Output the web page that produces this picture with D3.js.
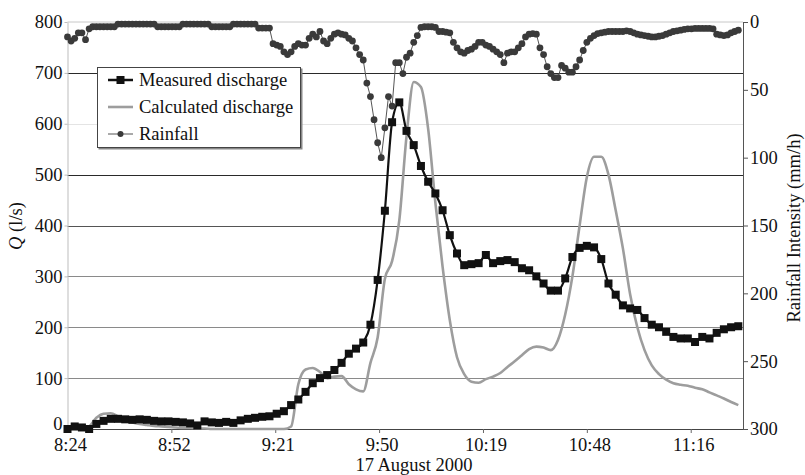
<!DOCTYPE html>
<html><head><meta charset="utf-8">
<script src="https://cdn.jsdelivr.net/npm/d3@7"></script>
<style>body{margin:0;background:#fff}svg{display:block}</style>
</head><body><svg id="c" width="805" height="475"></svg>
<script>
// ---------- data ----------
const xTickLabels = ["8:24","8:52","9:21","9:50","10:19","10:48","11:16"];
const xTickMinutes = [0, 28.8, 57.6, 86.4, 115.2, 144, 172.8]; // minutes after 8:24
const qTicks = [0,100,200,300,400,500,600,700,800];
const rainTicks = [0,50,100,150,200,250,300];
const gridValues = [100,200,300,400,500,600,700];
const gridColors = ["#8a8a8a","#8a8a8a","#8a8a8a","#555","#2a2a2a","#e4e4e4","#2a2a2a"];
const seriesNames = ["Measured discharge","Calculated discharge","Rainfall"];
const dischargeStepMin = 2;
const rainStepMin = 1;

const measured = [
 0, 5, 3, 0, 10, 16, 20, 20, 19, 18,
 19, 18, 16, 15, 15, 14, 13, 11, 7, 15,
 13, 12, 14, 12, 17, 20, 22, 24, 25, 30,
 35, 47, 58, 73, 90, 100, 106, 116, 130, 148,
 158, 170, 205, 293, 429, 603, 642, 586, 558, 517,
 486, 463, 430, 381, 345, 322, 324, 326, 342, 326,
 330, 332, 328, 316, 312, 300, 286, 272, 272, 296,
 338, 356, 360, 357, 334, 286, 264, 243, 237, 234,
 218, 205, 200, 191, 181, 178, 178, 171, 181, 178,
 189, 196, 200, 202
];
const calculated = [
 0, 0, 0, 5, 22, 30, 31, 25, 18, 13,
 10, 8, 6, 5, 4, 3, 2, 2, 1, 1,
 0, 0, 0, 0, 0, 0, 0, 0, 0, 0,
 0, 5, 88, 117, 120, 112, 100, 103, 104, 88,
 78, 74, 130, 180, 295, 330, 410, 575, 682, 672,
 590, 445, 319, 214, 141, 108, 93, 91, 98, 103,
 110, 122, 133, 145, 157, 162, 160, 155, 175, 225,
 300, 400, 495, 535, 535, 500, 430, 355, 265, 200,
 155, 125, 108, 97, 90, 87, 85, 81, 78, 72,
 66, 60, 53, 47
];
const rainfall = [
 11, 14, 12, 8, 8, 13, 5,
 3.5, 3.5, 3.5, 3.5, 3.5, 3.5, 3.5,
 1.5, 1.5, 1.5, 1.5, 1.5, 1.5, 1.5, 1.5, 1.5, 1.5, 1.5,
 3.5, 3.5, 3.5, 3.5, 3.5, 3.5, 3.5,
 1.5, 1.5, 1.5, 1.5, 1.5, 1.5, 1.5, 1.5,
 3.5, 3.5, 3.5, 3.5, 3.5, 3.5,
 1.5, 1.5, 1.5, 1.5, 1.5, 1.5, 1.5,
 4.5, 4.5, 4.5, 4.5,
 16, 17, 18, 22, 24, 22, 18, 16, 17, 17,
 12, 9, 11, 7, 14, 16, 12, 9, 8, 9,
 9.5, 12, 14, 19, 24, 28, 45, 55, 72, 89,
 100, 78, 55, 62,
 30, 30, 38, 26, 23, 15, 10, 4, 3.5, 3.5,
 3.5, 4, 7, 7, 7.5, 8, 15, 19, 22, 23,
 21, 20, 18, 15, 15, 17, 18, 20, 22, 24,
 30, 23, 22, 22, 19, 16, 11, 9, 8.5, 9,
 19, 24, 33, 38, 41, 41, 32, 34, 37, 37,
 33, 28, 21, 15, 12, 10, 8.5, 8, 7.5, 7,
 7, 7, 7, 7, 6.5, 7, 8, 9, 9.5, 10,
 10.5, 11, 11, 10.5, 10, 9, 8, 7, 6.5, 6,
 5.5, 5, 5, 4.7, 4.7, 4.7, 4.7, 4.7, 5, 9,
 9.5, 10, 9.5, 8, 7, 6
];

// ---------- layout ----------
const L = 67.5, R = 743, T = 22, B = 429;
const font = "'Liberation Serif','Times New Roman',serif";
const svg = d3.select("#c");

const x = d3.scaleLinear().domain([0, 187.3]).range([L, R]);
const yQ = d3.scaleLinear().domain([0, 800]).range([B, T]);
const yR = d3.scaleLinear().domain([0, 300]).range([T, B]);

// grid
svg.append("g").selectAll("line").data(gridValues).join("line")
  .attr("x1", L).attr("x2", R)
  .attr("y1", d => Math.round(yQ(d)) + 0.5).attr("y2", d => Math.round(yQ(d)) + 0.5)
  .attr("stroke", (d, i) => gridColors[i]).attr("stroke-width", 1);
// top border
svg.append("line").attr("x1", L).attr("x2", R).attr("y1", yQ(800)).attr("y2", yQ(800))
  .attr("stroke", "#c8c8c8");

// axes
const gx = svg.append("g").attr("transform", `translate(0,${B})`)
  .call(d3.axisBottom(x).tickValues(xTickMinutes).tickFormat((d, i) => xTickLabels[i]).tickSize(4).tickSizeOuter(0).tickPadding(4.5));
gx.select(".domain").attr("stroke", "#444");
gx.selectAll(".tick line").attr("stroke", "#666");
gx.selectAll(".tick text").attr("dx", 2.5);

const gl = svg.append("g").attr("transform", `translate(${L},0)`)
  .call(d3.axisLeft(yQ).tickValues(qTicks).tickSize(3).tickSizeOuter(0).tickPadding(2));
gl.select(".domain").attr("stroke", "#bdbdbd");
gl.selectAll(".tick line").attr("stroke", "#bdbdbd");
gl.selectAll(".tick text").filter(d => d === 0).attr("dy", "0.04em");

const gr = svg.append("g").attr("transform", `translate(${R},0)`)
  .call(d3.axisRight(yR).tickValues(rainTicks).tickSize(5).tickSizeOuter(0).tickPadding(2));
gr.select(".domain").attr("stroke", "#555");
gr.selectAll(".tick line").attr("stroke", "#555");

svg.selectAll(".tick text").attr("font-family", font).attr("font-size", 18.5).attr("fill", "#111");

// axis titles
svg.append("text").attr("x", 414).attr("y", 471).attr("text-anchor", "middle")
  .attr("font-family", font).attr("font-size", 18.5).attr("fill", "#111").text("17 August 2000");
const ql = svg.append("text").attr("transform", "translate(22,226) rotate(-90)")
  .attr("text-anchor", "middle").attr("font-family", font).attr("font-size", 18.5).attr("fill", "#111");
ql.append("tspan").attr("font-style", "italic").text("Q");
ql.append("tspan").text(" (l/s)");
svg.append("text").attr("transform", "translate(800,228) rotate(-90)")
  .attr("text-anchor", "middle").attr("font-family", font).attr("font-size", 18.5).attr("fill", "#111")
  .text("Rainfall Intensity (mm/h)");

// series
const dQ = measured.map((v, i) => [i * dischargeStepMin, v]);
const dC = calculated.map((v, i) => [i * dischargeStepMin, v]);
const dR = rainfall.map((v, i) => [i * rainStepMin, v]);

svg.append("path").datum(dC)
  .attr("d", d3.line().x(d => x(d[0])).y(d => yQ(d[1])).curve(d3.curveMonotoneX))
  .attr("fill", "none").attr("stroke", "#9d9d9d").attr("stroke-width", 2.6);

svg.append("path").datum(dQ)
  .attr("d", d3.line().x(d => x(d[0])).y(d => yQ(d[1])).curve(d3.curveMonotoneX))
  .attr("fill", "none").attr("stroke", "#111").attr("stroke-width", 2.2);
const sq = 8;
svg.append("g").selectAll("rect").data(dQ).join("rect")
  .attr("x", d => x(d[0]) - sq / 2).attr("y", d => yQ(d[1]) - sq / 2)
  .attr("width", sq).attr("height", sq).attr("fill", "#111");

svg.append("path").datum(dR)
  .attr("d", d3.line().x(d => x(d[0])).y(d => yR(d[1])))
  .attr("fill", "none").attr("stroke", "#555").attr("stroke-width", 1);
const dot = 3.4;
svg.append("g").selectAll("circle").data(dR).join("circle")
  .attr("cx", d => x(d[0])).attr("cy", d => yR(d[1])).attr("r", dot)
  .attr("fill", "#3a3a3a");

// legend
const lg = svg.append("g");
lg.append("rect").attr("x", 98.5).attr("y", 68.5).attr("width", 204).attr("height", 81)
  .attr("fill", "#888");
lg.append("rect").attr("x", 97.5).attr("y", 67.5).attr("width", 203).attr("height", 80)
  .attr("fill", "#fff").attr("stroke", "#444").attr("stroke-width", 1);
const rows = [80, 107, 134];
rows.forEach((yy, i) => {
  const line = lg.append("line").attr("x1", 108).attr("x2", 133).attr("y1", yy).attr("y2", yy);
  if (i === 0) {
    line.attr("stroke", "#111").attr("stroke-width", 2.5);
    lg.append("rect").attr("x", 120.5 - 4).attr("y", yy - 4).attr("width", 8).attr("height", 8).attr("fill", "#111");
  } else if (i === 1) {
    line.attr("stroke", "#9d9d9d").attr("stroke-width", 2.6);
  } else {
    line.attr("stroke", "#555").attr("stroke-width", 1);
    lg.append("circle").attr("cx", 120.5).attr("cy", yy).attr("r", 3).attr("fill", "#3a3a3a");
  }
  lg.append("text").attr("x", 139).attr("y", yy + 6).attr("font-family", font).attr("font-size", 18.5)
    .attr("fill", "#111").text(seriesNames[i]);
});
</script></body></html>
